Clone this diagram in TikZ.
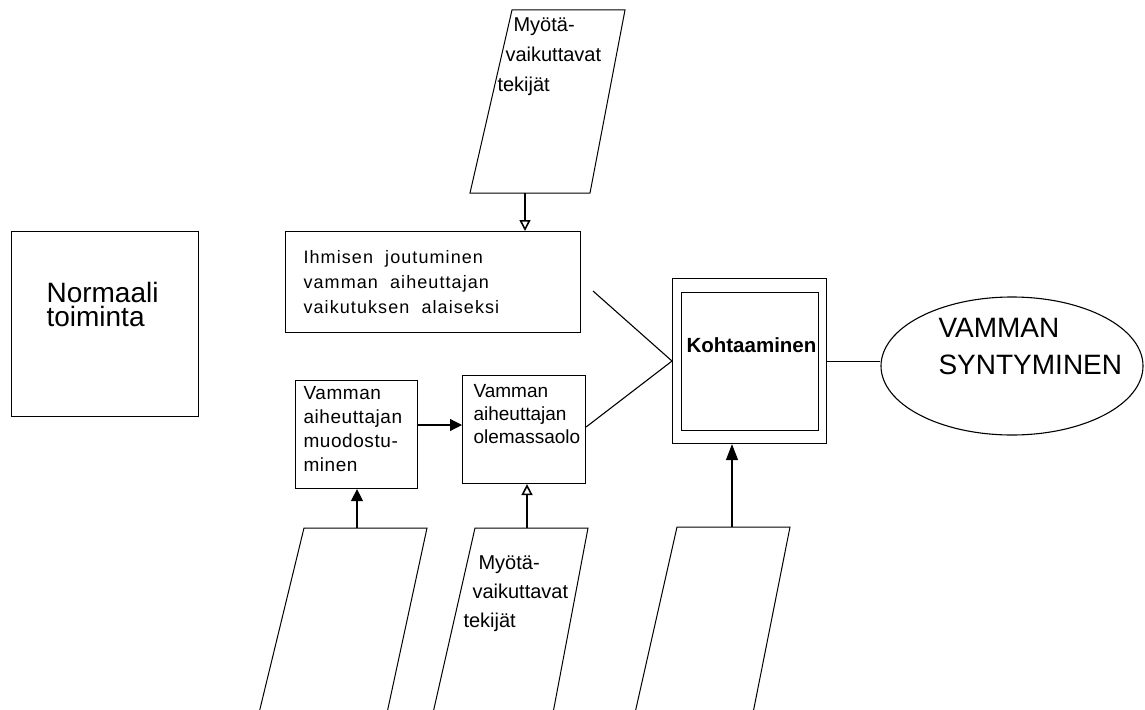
\documentclass[tikz,border=0pt]{standalone}
\usepackage{fontspec}
\setmainfont{Liberation Sans}
\usetikzlibrary{arrows.meta,shapes.geometric}
\begin{document}
\begin{tikzpicture}[x=1pt,y=-1pt,
  line width=1.1pt,
  box/.style={draw, rectangle, inner sep=0pt, anchor=north west},
  lbl/.style={anchor=north west, inner sep=0pt, align=left},
  edge/.style={line width=1.1pt},
  tipfill/.style={edge, -{Triangle[length=12pt,width=12pt]}},
  tipopen/.style={edge, -{Triangle[open,length=11pt,width=11pt,line width=1.6pt]}},
  tipbig/.style={edge, -{Triangle[length=16pt,width=12pt]}},
  slanted/.style={line width=1pt, line join=miter}
]
\useasboundingbox (0,0) rectangle (1145,709);
\clip (0,0) rectangle (1145,709);

% rectangular steps
\node[box, minimum width=187pt, minimum height=185pt] (normal) at (11,231) {};
\node[box, minimum width=295pt, minimum height=101pt] (ihmisen) at (285,231) {};
\node[box, minimum width=122pt, minimum height=108pt] (muod) at (295,380) {};
\node[box, minimum width=123pt, minimum height=108pt] (olem) at (462,375) {};
\node[box, minimum width=154pt, minimum height=165pt] (kohta) at (672,278) {};
\node[box, minimum width=137pt, minimum height=138pt] (kohtain) at (681,292) {};
\node[draw, ellipse, inner sep=0pt, minimum width=262pt, minimum height=138pt] (synty) at (1012,366) {};

% labels
\node[lbl, font=\fontsize{28}{24}\selectfont] (normaltxt) at (46,281.5) {Normaali\\toiminta};
\node[lbl, font=\fontsize{18}{25}\selectfont\addfontfeature{LetterSpace=6}] (ihmisentxt) at (303,250)
  {Ihmisen\ \ joutuminen\\vamman\ \ aiheuttajan\\vaikutuksen\ \ alaiseksi};
\node[lbl, font=\fontsize{19}{24}\selectfont\addfontfeature{LetterSpace=3}] (muodtxt) at (303,386)
  {Vamman\\aiheuttajan\\muodostu-\\minen};
\node[lbl, font=\fontsize{19}{23}\selectfont] (olemtxt) at (473,384)
  {Vamman\\aiheuttajan\\olemassaolo};
\node[anchor=base west, inner sep=0pt, font=\fontsize{20.5}{24}\selectfont\bfseries] (kohtatxt) at (686,352) {Kohtaaminen};
\node[lbl, font=\fontsize{28}{37}\selectfont] (syntytxt) at (938,317.5) {VAMMAN\\SYNTYMINEN};

% slanted input/output shapes
\draw[slanted] (512,10) -- (625,10) -- (590,193) -- (470,193) -- cycle;
\node[lbl, font=\fontsize{20}{30}\selectfont] (toptxt) at (497,17.5)
  {\hspace*{16pt}Myötä-\\\hspace*{8pt}vaikuttavat\\tekijät};
\draw[slanted] (259,713) -- (304,528) -- (427,528) -- (387,713);
\draw[slanted] (433,713) -- (475,528) -- (588,528) -- (553,713);
\node[lbl, font=\fontsize{20}{29}\selectfont] (bottxt) at (463,555.5)
  {\hspace*{15pt}Myötä-\\\hspace*{9pt}vaikuttavat\\tekijät};
\draw[slanted] (635,713) -- (677,527) -- (790,527) -- (753,713);

\coordinate (ptop) at (525,193);
\coordinate (pone) at (357,528);
\coordinate (ptwo) at (527,528);
\coordinate (pthree) at (732,527);
\coordinate (ihmend) at (593,291);

% connectors
\draw[tipopen] (ptop) -- (ihmisen.north -| ptop);
\draw[tipfill] (pone) -- (muod.south -| pone);
\draw[tipopen] (ptwo) -- (olem.south -| ptwo);
\draw[tipbig] (pthree) -- (kohta.south -| pthree);
\draw[tipfill] (muod.east |- 0,425) -- (olem.west |- 0,425);
\draw[edge] (ihmend) -- (kohta.west);
\draw[edge] (olem.east |- 0,427) -- (kohta.west);
\draw[edge] (kohta.east) -- (kohta.east -| synty.west);
\end{tikzpicture}
\end{document}
